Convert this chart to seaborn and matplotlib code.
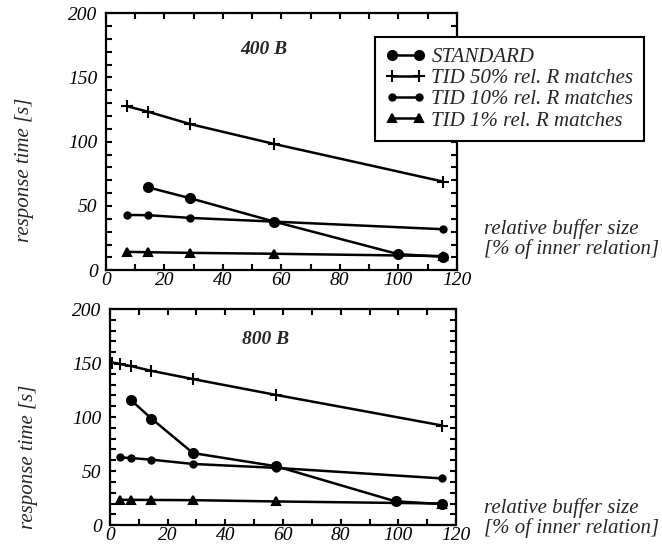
import pandas as pd
import matplotlib
matplotlib.use("Agg")
import matplotlib.pyplot as plt
import seaborn as sns
from matplotlib.ticker import MultipleLocator

names = ["STANDARD", "TID 50% rel. R matches", "TID 10% rel. R matches", "TID 1% rel. R matches"]

# 400 B panel
x_std_400 = [14.4, 28.8, 57.6, 100, 115.2]
y_std_400 = [64.5, 56.0, 37.8, 12.5, 10.5]
x_tid_400 = [7.2, 14.4, 28.8, 57.6, 115.2]
y_tid50_400 = [127.6, 123.3, 113.7, 98.2, 69.0]
y_tid10_400 = [43.0, 42.8, 40.7, 37.8, 31.9]
y_tid1_400 = [14.3, 14.0, 13.5, 12.8, 11.0]

# 800 B panel
x_std_800 = [7.2, 14.4, 28.8, 57.6, 99, 115.2]
y_std_800 = [116.0, 98.6, 66.7, 54.5, 22.0, 19.5]
x_tid50_800 = [0.9, 3.6, 7.2, 14.4, 28.8, 57.6, 115.2]
y_tid50_800 = [150.5, 149.0, 147.3, 142.8, 135.2, 120.5, 92.2]
x_tid_800 = [3.6, 7.2, 14.4, 28.8, 57.6, 115.2]
y_tid10_800 = [62.7, 62.1, 60.6, 56.6, 53.0, 43.2]
y_tid1_800 = [23.4, 23.4, 23.3, 23.1, 21.9, 20.0]

markers = ["o", "+", "o", "^"]
msizes = [6.5, 8, 4.5, 5.5]

panels = [
    ("400 B", [(x_std_400, y_std_400), (x_tid_400, y_tid50_400),
               (x_tid_400, y_tid10_400), (x_tid_400, y_tid1_400)]),
    ("800 B", [(x_std_800, y_std_800), (x_tid50_800, y_tid50_800),
               (x_tid_800, y_tid10_800), (x_tid_800, y_tid1_800)]),
]

sns.set_theme(style="ticks")
plt.rcParams['font.family'] = ['Liberation Serif', 'DejaVu Serif']
plt.rcParams['font.style'] = 'italic'

fig = plt.figure(figsize=(6.62, 5.47), dpi=100)
ax1 = fig.add_axes([0.160, 0.506, 0.530, 0.470])
ax2 = fig.add_axes([0.166, 0.040, 0.523, 0.395])

for ax, (label, series) in zip([ax1, ax2], panels):
    for name, (xs, ys), mk, ms in zip(names, series, markers, msizes):
        df = pd.DataFrame({"size": xs, "time": ys})
        sns.lineplot(data=df, x="size", y="time", ax=ax, color="black",
                     linewidth=1.8, marker=mk, markersize=ms, markeredgecolor="black",
                     markeredgewidth=1.5, label=name, legend=False, sort=False)
    ax.set_xlim(0, 120)
    ax.set_ylim(0, 200)
    ax.xaxis.set_major_locator(MultipleLocator(20))
    ax.xaxis.set_minor_locator(MultipleLocator(10))
    ax.yaxis.set_major_locator(MultipleLocator(50))
    ax.yaxis.set_minor_locator(MultipleLocator(10))
    ax.tick_params(which="both", direction="in", top=True, right=True,
                   length=4, width=1.5, labelsize=14, colors="black")
    ax.tick_params(axis="y", pad=6)
    ax.tick_params(axis="x", pad=1.5)
    for sp in ax.spines.values():
        sp.set_linewidth(1.6)
        sp.set_color("black")
    ax.set_xlabel("")
    ax.set_ylabel("")
    ax.text(0.45, 0.86, label, transform=ax.transAxes, ha="center", va="center",
            fontsize=14, fontweight="bold")

leg = ax1.legend(ax1.lines[:4], names, loc="upper left",
                 bbox_to_anchor=(375 / 662, 1 - 37 / 547),
                 bbox_transform=fig.transFigure, fontsize=15, numpoints=2,
                 handlelength=1.9, handletextpad=0.3, labelspacing=0.08,
                 frameon=True, fancybox=False, edgecolor="black", framealpha=1,
                 borderpad=0.5, borderaxespad=0)
leg.get_frame().set_linewidth(1.5)

fig.text(25 / 662, 1 - 170 / 547, "response time [s]", rotation=90,
         ha="center", va="center", fontsize=15)
fig.text(28 / 662, 1 - 457 / 547, "response time [s]", rotation=90,
         ha="center", va="center", fontsize=15)
fig.text(484 / 662, 1 - 239 / 547, "relative buffer size\n[% of inner relation]",
         ha="left", va="center", fontsize=15, linespacing=1.0)
fig.text(484 / 662, 1 - 518 / 547, "relative buffer size\n[% of inner relation]",
         ha="left", va="center", fontsize=15, linespacing=1.0)

fig.savefig("out.png", dpi=100, facecolor="white")
